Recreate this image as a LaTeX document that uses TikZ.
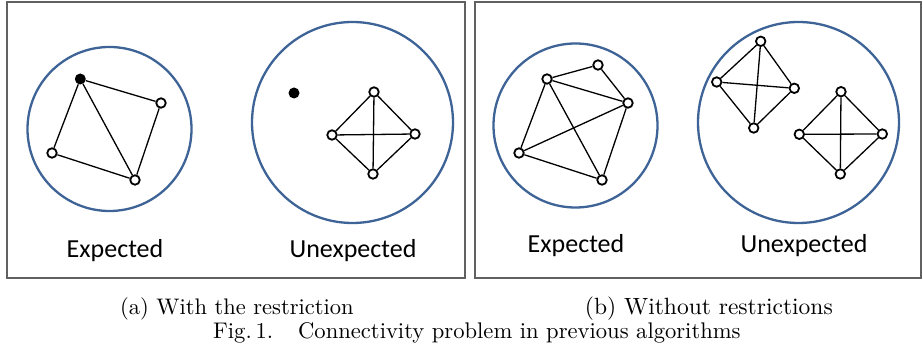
\documentclass[tikz,border=0pt]{standalone}
\usepackage{fontspec}
\newfontfamily\calib{Carlito}
\begin{document}
\begin{tikzpicture}[x=1pt,y=-1pt,
  frame/.style={draw=black!62,line width=1.4pt},
  region/.style={circle,draw={rgb,255:red,62;green,99;blue,150},line width=2.3pt,inner sep=0pt},
  vtx/.style={circle,draw,fill=white,line width=1.8pt,inner sep=0pt,minimum size=9.5pt},
  fvtx/.style={circle,fill=black,inner sep=0pt,minimum size=11pt},
  link/.style={line width=1.3pt},
  lab/.style={font=\calib\fontsize{26}{30}\selectfont,anchor=base,inner sep=0pt},
  capt/.style={font=\fontsize{10}{12}\selectfont,inner sep=0pt}]
\useasboundingbox (0,0) rectangle (923,344);
% frames
\draw[frame] (7,2) rectangle (465,278);
\draw[frame] (475,2) rectangle (921,278);
% region circles
\node[region,minimum size=164pt] (c1) at (109.5,129) {};
\node[region,minimum size=201pt] (c2) at (352.5,122.5) {};
\node[region,minimum size=164pt] (c3) at (575.5,125.5) {};
\node[region,minimum size=201pt] (c4) at (798.5,122.5) {};
% graph 1
\node[fvtx] (a1) at (80.3,79) {};
\node[vtx] (a2) at (161,103) {};
\node[vtx] (a3) at (52,153) {};
\node[vtx] (a4) at (135,180) {};
\draw[link] (a1)--(a2) (a1)--(a3) (a1)--(a4) (a2)--(a4) (a3)--(a4);
% graph 2
\node[fvtx] (b0) at (294,93) {};
\node[vtx] (b1) at (374,92) {};
\node[vtx] (b2) at (332,135) {};
\node[vtx] (b3) at (415,134) {};
\node[vtx] (b4) at (373,174) {};
\draw[link] (b1)--(b2) (b1)--(b3) (b2)--(b4) (b3)--(b4) (b1)--(b4) (b2)--(b3);
% graph 3
\node[vtx] (d1) at (547,79) {};
\node[vtx] (d2) at (598,65) {};
\node[vtx] (d3) at (628,103) {};
\node[vtx] (d4) at (519,153) {};
\node[vtx] (d5) at (602,180) {};
\draw[link] (d1)--(d2) (d2)--(d3) (d1)--(d3) (d1)--(d4) (d1)--(d5) (d4)--(d3) (d4)--(d5) (d3)--(d5);
% graph 4
\node[vtx] (e1) at (760.7,41.3) {};
\node[vtx] (e2) at (716.7,82) {};
\node[vtx] (e3) at (794.3,88.3) {};
\node[vtx] (e4) at (753.7,128) {};
\draw[link] (e1)--(e2) (e1)--(e3) (e2)--(e4) (e3)--(e4) (e1)--(e4) (e2)--(e3);
\node[vtx] (f1) at (841,91.7) {};
\node[vtx] (f2) at (799.3,134.3) {};
\node[vtx] (f3) at (882.3,134) {};
\node[vtx] (f4) at (840.3,174) {};
\draw[link] (f1)--(f2) (f1)--(f3) (f2)--(f4) (f3)--(f4) (f1)--(f4) (f2)--(f3);
% labels
\node[lab] (l1) at (115,258) {Expected};
\node[lab] (l2) at (353,258) {Unexpected};
\node[lab] (l3) at (576,253) {Expected};
\node[lab] (l4) at (804,253) {Unexpected};
% captions
\node[capt,anchor=base west] (ca) at (120,315) {\scalebox{2.25}{(a) With the restriction}};
\node[capt,anchor=base east] (cb) at (833,315) {\scalebox{2.35}{(b) Without restrictions}};
\node[capt,anchor=base west] (cf) at (213,338) {\scalebox{2.26}{Fig.\,1.}\hspace{25pt}\scalebox{2.26}{Connectivity problem in previous algorithms}};
\end{tikzpicture}
\end{document}
